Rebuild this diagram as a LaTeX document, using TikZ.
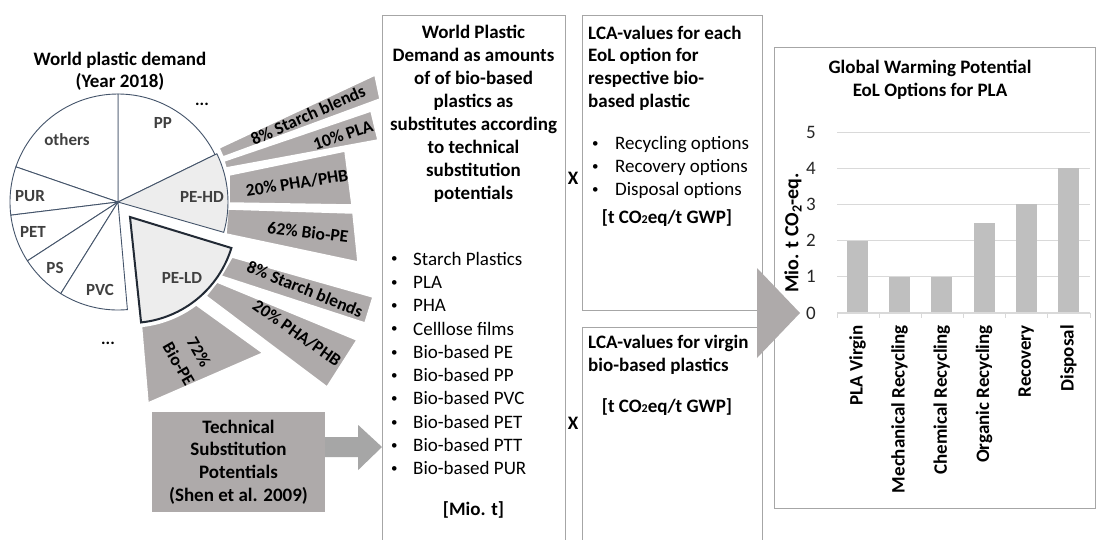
\documentclass[tikz,border=0pt]{standalone}
\usepackage{fontspec}
\setmainfont{Carlito}
\usetikzlibrary{calc}
\definecolor{wedge}{HTML}{AEAAAA}
\definecolor{tarrowc}{HTML}{A6A6A6}
\definecolor{pieline}{HTML}{44546A}
\definecolor{ldline}{HTML}{222A35}
\definecolor{slicefill}{HTML}{EDEDED}
\definecolor{boxline}{HTML}{A6A6A6}
\definecolor{barc}{HTML}{BFBFBF}
\definecolor{gridc}{HTML}{D9D9D9}
\definecolor{lbl}{HTML}{404040}
\newcommand{\myfs}[2]{\fontsize{#1}{#2}\selectfont}
\newcommand{\mybul}[1]{\makebox[#1][l]{\raisebox{0.12em}{\myfs{13}{13}\textbullet}}}
\begin{document}
\begin{tikzpicture}[x=1pt,y=1pt,
  wedgestyle/.style={fill=wedge,draw=white,line width=1.5pt,line join=miter},
  slice/.style={fill=white,draw=pieline,line width=0.9pt},
  wtext/.style={font=\bfseries\myfs{17.5}{19},inner sep=0},
  pietext/.style={font=\bfseries\myfs{17}{19},text=lbl,inner sep=0},
  panel/.style={draw=boxline,line width=1.1pt,inner sep=0,anchor=north west},
  boldtext/.style={font=\bfseries\myfs{19}{23},inner sep=0},
  plaintext/.style={font=\myfs{19}{23.3},inner sep=0},
  catlabel/.style={font=\bfseries\myfs{19}{19},rotate=90,anchor=east,inner sep=0}]
\useasboundingbox (0,0) rectangle (1097,-539);
\clip (0,0) rectangle (1097,-539);
\fill[white] (0,0) rectangle (1097,-539);

% ---------- pie title ----------
\node[boldtext,align=center,font=\bfseries\myfs{19}{22}] (ptitle) at (120,-71) {World plastic demand\\(Year 2018)};

% ---------- substitution wedges (PE-HD) ----------
\path[wedgestyle] (219,-148) -- (375,-75) -- (380,-99) -- (223,-157) -- cycle;
\path[wedgestyle] (224,-161) -- (371,-111) -- (378,-140) -- (226,-168) -- cycle;
\path[wedgestyle] (229,-175) -- (345,-151) -- (352,-205) -- (229,-203) -- cycle;
\path[wedgestyle] (228,-209) -- (353,-213) -- (358,-262) -- (226,-234) -- cycle;
% ---------- substitution wedges (PE-LD) ----------
\coordinate (A) at (130,-217);
\path[wedgestyle] (232,-257) -- (373,-297) -- (365,-323) -- (221,-276) -- cycle;
\path[wedgestyle] (217,-282) -- (357,-340) -- (327,-387) -- (206,-296) -- cycle;
\path[wedgestyle] (A) ++(-84:110) arc[start angle=-84,end angle=-53,radius=110] -- (263,-353) -- (148,-403) -- cycle;

\node[wtext,rotate=24] (hd1) at (308,-115) {8\% Starch blends};
\node[wtext,rotate=19] (hd2) at (343,-135) {10\% PLA};
\node[wtext,rotate=9] (hd3) at (297,-183) {20\% PHA/PHB};
\node[wtext,rotate=-7] (hd4) at (308,-232) {62\% Bio-PE};
\node[wtext,rotate=-22] (ld1) at (305,-289) {8\% Starch blends};
\node[wtext,rotate=-35] (ld2) at (297,-333) {20\% PHA/PHB};
\node[wtext,rotate=-60] (ld3a) at (199,-352) {72\%};
\node[wtext,rotate=-60] (ld3b) at (179,-364) {Bio-PE};

% ---------- pie ----------
\coordinate (C) at (118,-202);
\foreach \a/\b in {26/90,90/161,161/187,187/213,213/238,238/275}
  \draw[slice] (C) -- ++(\a:108) arc[start angle=\a,end angle=\b,radius=108] -- cycle;
\draw[slice,fill=slicefill] (C) -- ++(-16:110) arc[start angle=-16,end angle=26,radius=110] -- cycle;
\draw[fill=slicefill,draw=ldline,line width=2pt,line join=miter] (A) -- ++(-84:106) arc[start angle=-84,end angle=-17,radius=106] -- cycle;

\node[pietext] (pp) at (163,-123) {PP};
\node[pietext] (oth) at (67,-140) {others};
\node[pietext] (pur) at (30,-196) {PUR};
\node[pietext] (pet) at (33,-232) {PET};
\node[pietext] (ps) at (55,-268) {PS};
\node[pietext] (pvc) at (100,-290) {PVC};
\node[pietext] (pehd) at (202,-197) {PE-HD};
\node[pietext] (peld) at (182,-278) {PE-LD};
\node[pietext,text=black] (dots1) at (202,-104) {...};
\node[pietext,text=black] (dots2) at (108,-343) {...};

% ---------- technical substitution ----------
\node[fill=wedge,minimum width=173pt,minimum height=100pt,inner sep=0,align=center,font=\bfseries\myfs{19}{22.7}] (tech) at (238.5,-462) {Technical\\Substitution\\Potentials\\(Shen et al. 2009)};

% ---------- middle panel ----------
\node[panel,minimum width=183pt,minimum height=545pt] (wpd) at (382,-15) {};
\node[boldtext,align=center] (wpdt) at (473.5,-114) {World Plastic\\Demand as amounts\\of of bio-based\\plastics as\\substitutes according\\to technical\\substitution\\potentials};
\node[plaintext,align=left,anchor=west] (wpdl) at (391,-363.5) {%
\mybul{22pt}Starch Plastics\\
\mybul{22pt}PLA\\
\mybul{22pt}PHA\\
\mybul{22pt}Celllose films\\
\mybul{22pt}Bio-based PE\\
\mybul{22pt}Bio-based PP\\
\mybul{22pt}Bio-based PVC\\
\mybul{22pt}Bio-based PET\\
\mybul{22pt}Bio-based PTT\\
\mybul{22pt}Bio-based PUR};
\node[boldtext] (miot) at (473.5,-510) {[Mio. t]};

% arrow tech -> middle
\coordinate (tipA) at (wpd.west |- 0,-447);
\fill[tarrowc] ($(tech.east)+(0,25)$) -- ++(33,0) -- ++(0,12) -- (tipA) -- ($(tech.east)+(33,-8)$) -- ++(0,13) -- ($(tech.east)+(0,5)$) -- cycle;

% ---------- LCA panels ----------
\node[panel,minimum width=180pt,minimum height=295pt] (lca1) at (582,-15) {};
\node[panel,minimum width=180pt,minimum height=240pt] (lca2) at (582,-327) {};
\node[boldtext,align=left,anchor=west,font=\bfseries\myfs{19}{22.7}] (lca1t) at (588,-68) {LCA-values for each\\EoL option for\\respective bio-\\based plastic};
\node[plaintext,align=left,anchor=west,font=\myfs{19}{23}] (lca1l) at (592,-167.5) {%
\mybul{23pt}Recycling options\\
\mybul{23pt}Recovery options\\
\mybul{23pt}Disposal options};
\node[boldtext] (lca1u) at (667,-218) {[t CO{\myfs{12}{12}2}eq/t GWP]};
\node[boldtext,align=left,anchor=west] (lca2t) at (588,-354.5) {LCA-values for virgin\\bio-based plastics};
\node[boldtext] (lca2u) at (667,-407) {[t CO{\myfs{12}{12}2}eq/t GWP]};

\node[boldtext] (x1) at (573,-178) {X};
\node[boldtext] (x2) at (573,-423) {X};

% ---------- chart ----------
\node[panel,minimum width=321pt,minimum height=461pt] (chart) at (774,-47) {};
\fill[wedge] (757,-268) -- (800,-313) -- (757,-358) -- cycle;
\node[boldtext,align=center,font=\bfseries\myfs{19}{23}] (ctitle) at (930,-79.5) {Global Warming Potential\\EoL Options for PLA};
\foreach \v in {1,...,5}
  \draw[gridc,line width=1pt] (837,{-313+36.2*\v}) -- (1090,{-313+36.2*\v});
\foreach \v/\i in {2/0,1/1,1/2,2.5/3,3/4,4/5}
  \fill[barc] ({857.5+42.17*\i-10.5},-313) rectangle ++(21,{36.2*\v});
\draw[gridc,line width=1.2pt] (837,-313) -- (1090,-313);
\foreach \i in {0,...,6}
  \draw[gridc,line width=1pt] ({837+42.17*\i},-313) -- ++(0,-5);
\foreach \v in {0,...,5}
  \node[font=\myfs{19}{19},text=black!85,inner sep=0] at (811,{-313+36.2*\v}) {\v};
\node[font=\bfseries\myfs{20}{20},rotate=90,inner sep=0] (ytitle) at (793,-233) {Mio. t CO\textsubscript{2}-eq.};
\foreach \t [count=\i from 0] in {PLA Virgin,Mechanical Recycling,Chemical Recycling,Organic Recycling,Recovery,Disposal}
  \node[catlabel] at ({857.5+42.17*\i},-325) {\t};
\end{tikzpicture}
\end{document}
